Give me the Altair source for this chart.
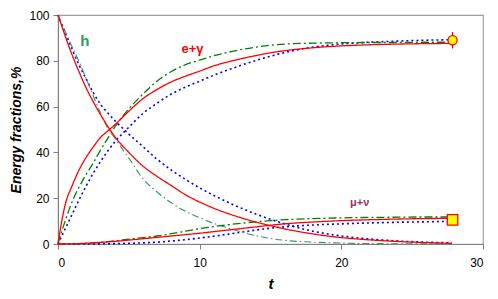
import altair as alt
import pandas as pd

# time grid
T = [0, 0.25, 0.5, 1, 1.5, 2, 2.5, 3, 3.5, 4, 5, 6, 7, 8, 9, 10, 11, 12, 13, 14, 15, 16, 18, 20, 22, 24, 26, 27.8]

# hadron fraction (h)
red_h = [100, 95.5, 91, 82.5, 75, 68, 62, 56.5, 51.5, 47, 40, 34, 29.5, 25.5, 21.5, 18.3, 15.6, 13.3, 11.3, 9.5, 8, 6.6, 4.4, 2.8, 1.8, 1.1, 0.6, 0.3]
green_h = [100, 96.5, 93, 86, 79.5, 72, 64.5, 57.2, 50.7, 46.3, 37.5, 28.5, 22.7, 18, 14.3, 11.5, 9, 7, 5.2, 3.6, 2.4, 1.6, 0.8, 0.4, 0.2, 0.1, 0.05, 0]
blue_h = [100, 96.2, 92.5, 85, 78, 72, 66, 61, 57.3, 54, 48, 42.5, 37, 32.3, 28.2, 24.5, 21.2, 18.2, 15.5, 13, 10.8, 8.8, 5.6, 3.5, 2.2, 1.3, 0.8, 0.5]

# electromagnetic fraction (e+gamma)
red_eg = [0, 9.5, 17, 25.5, 32.5, 38, 42.5, 46.5, 49.3, 52, 58, 63.5, 67.5, 70.8, 73.3, 75.5, 77.8, 79.5, 81, 82.3, 83.5, 84.4, 85.7, 86.5, 87, 87.3, 87.5, 87.6]
green_eg = [0, 5.2, 10, 18.5, 25, 30.5, 35.5, 41, 46, 51, 59, 65.5, 71.2, 75.3, 78.3, 80.3, 82.2, 83.7, 85, 86, 86.8, 87.3, 87.7, 87.9, 88, 88, 88.1, 88.1]
blue_eg = [0, 3.3, 6.5, 13, 19.5, 25.5, 31, 36, 40.5, 44.5, 51, 57, 61.5, 65.5, 68.5, 71.1, 73.7, 76, 78.2, 80.2, 82, 83.6, 86, 87.3, 88.1, 88.6, 89, 89.2]

# muon + neutrino fraction
red_mn = [0, 0, 0, 0.1, 0.2, 0.35, 0.5, 0.7, 0.9, 1.15, 1.7, 2.3, 2.9, 3.5, 4.1, 4.7, 5.4, 6.1, 6.8, 7.5, 8.2, 8.8, 9.6, 10.2, 10.6, 10.9, 11.1, 11.2]
green_mn = [0, 0, 0, 0.05, 0.15, 0.3, 0.5, 0.75, 1.05, 1.4, 2.1, 2.8, 3.5, 4.5, 5.6, 6.7, 7.6, 8.4, 9.1, 9.7, 10.2, 10.6, 11.1, 11.4, 11.6, 11.7, 11.8, 11.8]
blue_mn = [0, 0, 0, 0, 0, 0.02, 0.05, 0.08, 0.12, 0.18, 0.3, 0.5, 0.8, 1.3, 1.9, 2.6, 3.4, 4.3, 5.2, 6.1, 6.9, 7.5, 8.3, 8.8, 9.2, 9.5, 9.7, 9.9]

# reference points
pt_t = [27.85, 27.85]
pt_v = [89, 10.5]
pt_kind = ["circle", "square"]
err_lo = [85.4]
err_hi = [92.6]

# labels
lab_text = ["h", "e+γ", "μ+ν"]
lab_t = [1.9, 9.5, 21.3]
lab_v = [88.8, 85.3, 18.1]


def frame(name, vals):
    return pd.DataFrame({"t": T, "v": vals, "series": name})


xs = alt.Scale(domain=[0, 30], nice=False)
ys = alt.Scale(domain=[0, 100], nice=False)
x_axis = alt.Axis(values=[0, 10, 20, 30], title="t", titleFontStyle="italic",
                  titleFontWeight="bold", titleFontSize=15, labelPadding=8,
                  titlePadding=8)
y_axis = alt.Axis(values=[0, 20, 40, 60, 80, 100], title="Energy fractions,%",
                  titleFontStyle="italic", titleFontWeight="bold", titleFontSize=14,
                  labelPadding=4, titlePadding=5)


def lines(dfs, color, dash, width):
    d = pd.concat(dfs, ignore_index=True)
    return alt.Chart(d).mark_line(color=color, strokeDash=dash, strokeWidth=width,
                                  interpolate="monotone").encode(
        x=alt.X("t:Q", scale=xs, axis=x_axis),
        y=alt.Y("v:Q", scale=ys, axis=y_axis),
        detail="series:N",
    )


blue = lines([frame("bh", blue_h), frame("beg", blue_eg), frame("bmn", blue_mn)],
             "#0000ff", [2, 3], 1.6)
seagreen = lines([frame("gh", green_h)], "#339966", [7, 3, 1.5, 3], 1.1)
green = lines([frame("geg", green_eg), frame("gmn", green_mn)],
              "#008000", [8, 3, 2, 3], 1.3)
red = lines([frame("rh", red_h), frame("reg", red_eg), frame("rmn", red_mn)],
            "#ff0000", [1, 0], 1.3)

err_df = pd.DataFrame({"t": [pt_t[0]], "lo": err_lo, "hi": err_hi})
err = alt.Chart(err_df).mark_rule(color="#ff0000", strokeWidth=1.2).encode(
    x=alt.X("t:Q", scale=xs), y=alt.Y("lo:Q", scale=ys), y2="hi:Q")

pts_df = pd.DataFrame({"t": pt_t, "v": pt_v, "kind": pt_kind})
circ = alt.Chart(pts_df[pts_df.kind == "circle"]).mark_point(
    shape="circle", filled=True, fill="#ffff00", stroke="#ff0000", strokeWidth=1.3,
    size=85, opacity=1).encode(x=alt.X("t:Q", scale=xs), y=alt.Y("v:Q", scale=ys))
sq = alt.Chart(pts_df[pts_df.kind == "square"]).mark_point(
    shape="square", filled=True, fill="#ffff00", stroke="#ff0000", strokeWidth=1.3,
    size=110, opacity=1).encode(x=alt.X("t:Q", scale=xs), y=alt.Y("v:Q", scale=ys))

lab_df = pd.DataFrame({"t": lab_t, "v": lab_v, "txt": lab_text,
                       "col": ["h", "e", "m"]})
labels = alt.Chart(lab_df).mark_text(fontWeight="bold", font="Liberation Sans").encode(
    x=alt.X("t:Q", scale=xs), y=alt.Y("v:Q", scale=ys), text="txt:N",
    color=alt.Color("col:N", scale=alt.Scale(domain=["h", "e", "m"],
                    range=["#339966", "#ff0000", "#993366"]), legend=None),
    size=alt.Size("col:N", scale=alt.Scale(domain=["h", "e", "m"], range=[15, 11, 15]),
                  legend=None),
)

chart = alt.layer(blue, seagreen, green, red, err, circ, sq, labels).properties(
    width=425, height=229,
    autosize=alt.AutoSizeParams(type="none"),
    padding={"left": 50, "top": 7, "right": 7, "bottom": 50},
).configure_view(stroke="#a0a0a0", strokeWidth=1.2).configure_axis(
    grid=False, domainColor="#808080", tickColor="#808080", tickSize=5,
    labelFont="Liberation Sans", titleFont="Liberation Sans", labelFontSize=12,
    labelColor="#000000", titleColor="#000000",
)

chart.save("out.html", embed_options={"renderer": "svg", "actions": False})
